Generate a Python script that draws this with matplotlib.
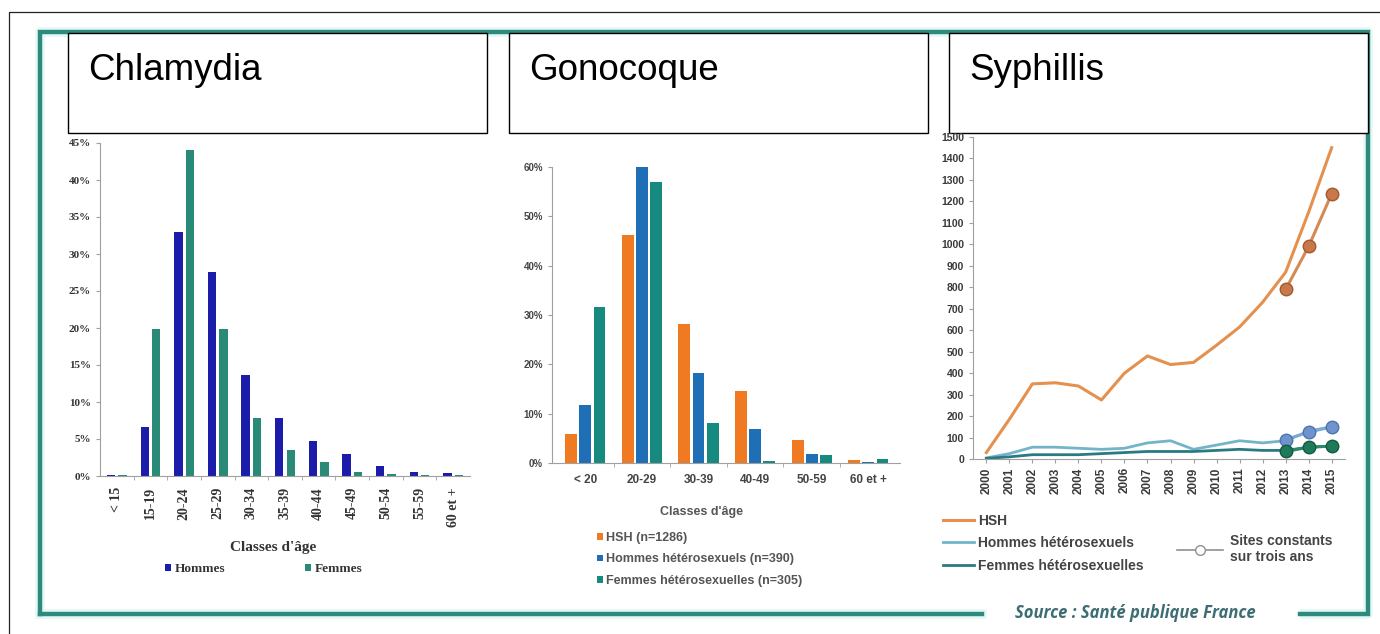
import matplotlib
import matplotlib.pyplot as plt
from matplotlib.patches import Rectangle
from matplotlib.lines import Line2D
from matplotlib.ticker import FixedLocator
import numpy as np

matplotlib.use('Agg')

W, H = 1380, 634

# Chlamydia : distribution par classe d'age (%)
chl_ages = ['< 15', '15-19', '20-24', '25-29', '30-34', '35-39',
            '40-44', '45-49', '50-54', '55-59', '60 et +']
chl_hommes = [0.1, 6.6, 33.0, 27.6, 13.6, 7.8, 4.7, 3.0, 1.4, 0.6, 0.4]
chl_femmes = [0.1, 19.8, 44.1, 19.8, 7.8, 3.5, 1.9, 0.5, 0.3, 0.1, 0.1]

# Gonocoque : distribution par classe d'age (%)
gono_ages = ['< 20', '20-29', '30-39', '40-49', '50-59', '60 et +']
gono_hsh = [5.9, 46.2, 28.2, 14.6, 4.6, 0.7]
gono_hommes = [11.8, 60.0, 18.3, 6.8, 1.8, 0.3]
gono_femmes = [31.7, 57.0, 8.1, 0.5, 1.7, 0.8]
gono_labels = ['HSH (n=1286)', 'Hommes hétérosexuels (n=390)',
               'Femmes hétérosexuelles (n=305)']

# Syphilis : nombre de cas par annee
years = list(range(2000, 2016))
syph_hsh = [30, 185, 350, 355, 340, 275, 400, 480, 440, 450,
            530, 615, 730, 870, 1150, 1450]
syph_hommes = [5, 25, 55, 55, 50, 45, 50, 75, 85, 45,
               65, 85, 75, 85, 130, 150]
syph_femmes = [3, 10, 20, 20, 20, 25, 30, 35, 35, 35,
               40, 45, 40, 40, 55, 60]
const_years = [2013, 2014, 2015]
const_hsh = [790, 990, 1235]
const_hommes = [90, 125, 150]
const_femmes = [35, 55, 60]

TEAL = '#2f8a7e'
SANS = 'Liberation Sans'
SERIF = 'Liberation Serif'


def px_axes(fig, x0, y0, x1, y1):
    ax = fig.add_axes([x0 / W, 1 - y1 / H, (x1 - x0) / W, (y1 - y0) / H])
    ax.set_facecolor('none')
    return ax


def style_axes(ax):
    for s in ['top', 'right']:
        ax.spines[s].set_visible(False)
    for s in ['left', 'bottom']:
        ax.spines[s].set_color('#a0a0a0')
        ax.spines[s].set_linewidth(0.8)
    ax.tick_params(colors='#a0a0a0', length=3, width=0.8)


fig = plt.figure(figsize=(W / 100, H / 100), dpi=100)

# decor : cadre, encadres de titre
bg = fig.add_axes([0, 0, 1, 1])
bg.set_xlim(0, W)
bg.set_ylim(H, 0)
bg.axis('off')
bg.add_patch(Rectangle((9, 12), W, H, fill=False, ec='#222222', lw=0.9))
frame_x = [40, 40, 1368, 1368, 1300]
frame_y = [614, 32, 32, 614, 614]
bg.plot(frame_x, frame_y, color='#e4f8f6', lw=7, solid_capstyle='butt',
        zorder=1)
bg.plot([982, 40], [614, 614], color='#e4f8f6', lw=7, zorder=1)
bg.plot(frame_x, frame_y, color=TEAL, lw=3.2, solid_joinstyle='miter',
        zorder=2)
bg.plot([982, 40], [614, 614], color=TEAL, lw=3.2, zorder=2)
for x0, title in [(68, 'Chlamydia'), (509, 'Gonocoque'), (949, 'Syphillis')]:
    bg.add_patch(Rectangle((x0, 33), 419, 100, fc='white', ec='black',
                           lw=1.0, zorder=3))
    bg.text(x0 + 20, 80, title, fontsize=26.5, family=SANS,
            va='baseline', ha='left', zorder=4)
fig.text(1135 / W, 1 - 613 / H, 'Source : Santé publique France',
         fontsize=12, family='Open Sans', style='italic', weight='bold',
         color='#3d6d73', ha='center', va='center')

# --- Chlamydia
ax1 = px_axes(fig, 100, 143, 470, 476)
style_axes(ax1)
x = np.arange(len(chl_ages))
ax1.bar(x - 0.17, chl_hommes, 0.25, color='#1c1caa', label='Hommes')
ax1.bar(x + 0.17, chl_femmes, 0.25, color='#2a8a78', label='Femmes')
ax1.set_xlim(-0.5, len(chl_ages) - 0.5)
ax1.set_ylim(0, 45)
ax1.set_yticks(range(0, 50, 5))
ax1.set_yticklabels(['%d%%' % v for v in range(0, 50, 5)],
                    family=SERIF, weight='bold', fontsize=8, color='#333333')
ax1.set_xticks(x)
ax1.set_xticklabels(chl_ages, rotation=90, family=SERIF, weight='bold',
                    fontsize=10, color='#333333')
ax1.xaxis.set_minor_locator(FixedLocator(x[:-1] + 0.5))
ax1.tick_params(axis='x', which='major', length=0, pad=8)
ax1.tick_params(axis='x', which='minor', length=3, color='#a0a0a0')
fig.text(273 / W, 1 - 547 / H, "Classes d'âge", family=SERIF, weight='bold',
         fontsize=11, color='#333333', ha='center', va='center')
ax1.legend(loc='upper left', bbox_to_anchor=(165 / W, 1 - 563 / H),
           bbox_transform=fig.transFigure, ncol=2, frameon=False,
           handlelength=0.45, handleheight=0.45, handletextpad=0.3,
           columnspacing=6.0, borderpad=0, borderaxespad=0,
           prop={'family': SERIF, 'weight': 'bold', 'size': 9.5})
for t in ax1.get_legend().get_texts():
    t.set_color('#333333')

# --- Gonocoque
ax2 = px_axes(fig, 552, 167, 900, 463)
style_axes(ax2)
x = np.arange(len(gono_ages))
ax2.bar(x - 0.25, gono_hsh, 0.21, color='#f07a22', label=gono_labels[0])
ax2.bar(x, gono_hommes, 0.21, color='#1f6fb6', label=gono_labels[1])
ax2.bar(x + 0.25, gono_femmes, 0.21, color='#178a80', label=gono_labels[2])
ax2.set_xlim(-0.59, len(gono_ages) - 0.44)
ax2.set_ylim(0, 60)
ax2.set_yticks(range(0, 70, 10))
ax2.set_yticklabels(['%d%%' % v for v in range(0, 70, 10)],
                    family=SANS, weight='bold', fontsize=7, color='#444444')
ax2.set_xticks(x)
ax2.set_xticklabels(gono_ages, family=SANS, weight='bold', fontsize=8.5,
                    color='#444444')
ax2.xaxis.set_minor_locator(FixedLocator(x[:-1] + 0.5))
ax2.tick_params(axis='x', which='major', length=0, pad=8)
ax2.tick_params(axis='x', which='minor', length=3, color='#a0a0a0')
fig.text(702 / W, 1 - 512 / H, "Classes d'âge", family=SANS, weight='bold',
         fontsize=9, color='#555555', ha='center', va='center')
ax2.legend(loc='upper left', bbox_to_anchor=(597 / W, 1 - 532 / H),
           bbox_transform=fig.transFigure, frameon=False,
           handlelength=0.45, handleheight=0.45, handletextpad=0.3,
           labelspacing=0.75, borderpad=0, borderaxespad=0,
           prop={'family': SANS, 'weight': 'bold', 'size': 9})
for t in ax2.get_legend().get_texts():
    t.set_color('#555555')

# --- Syphilis
ax3 = px_axes(fig, 973, 137, 1345, 459)
style_axes(ax3)
l_hsh, = ax3.plot(years, syph_hsh, color='#e4904e', lw=2.2, label='HSH')
l_hom, = ax3.plot(years, syph_hommes, color='#74b4c8', lw=2.0,
                  label='Hommes hétérosexuels')
l_fem, = ax3.plot(years, syph_femmes, color='#2a7a82', lw=2.0,
                  label='Femmes hétérosexuelles')
ax3.plot(const_years, const_hsh, color='#d58a55', lw=2.2, marker='o', ms=9,
         mfc='#c8784a', mec='#a05a30', mew=1)
ax3.plot(const_years, const_hommes, color='#7aa8d8', lw=2.2, marker='o', ms=9,
         mfc='#6f93cc', mec='#4f73b0', mew=1)
ax3.plot(const_years, const_femmes, color='#2a8a66', lw=2.2, marker='o', ms=9,
         mfc='#1f7a5a', mec='#145a40', mew=1)
ax3.set_xlim(1999.42, 2015.58)
ax3.set_ylim(0, 1500)
ax3.set_yticks(range(0, 1600, 100))
ax3.set_yticklabels([str(v) for v in range(0, 1600, 100)], family=SANS,
                    weight='bold', fontsize=7.5, color='#3a3a3a')
ax3.set_xticks(years)
ax3.set_xticklabels([str(y) for y in years], rotation=90, family=SANS,
                    weight='bold', fontsize=8.5, color='#3a3a3a')
ax3.tick_params(axis='x', pad=3)
leg = ax3.legend(handles=[l_hsh, l_hom, l_fem], loc='upper left',
                 bbox_to_anchor=(943 / W, 1 - 514 / H),
                 bbox_transform=fig.transFigure, frameon=False,
                 handlelength=2.2, handletextpad=0.3, labelspacing=0.6,
                 borderpad=0, borderaxespad=0,
                 prop={'family': SANS, 'weight': 'bold', 'size': 10})
for t in leg.get_texts():
    t.set_color('#444444')
ax3.add_artist(leg)
site = Line2D([], [], color='#909090', lw=1.2, marker='o', ms=7,
              mfc='white', mec='#909090', label='Sites constants\nsur trois ans')
leg2 = ax3.legend(handles=[site], loc='upper left',
                  bbox_to_anchor=(1177 / W, 1 - 534 / H),
                  bbox_transform=fig.transFigure, frameon=False,
                  handlelength=3.3, handletextpad=0.5, borderpad=0,
                  borderaxespad=0,
                  prop={'family': SANS, 'weight': 'bold', 'size': 10})
for t in leg2.get_texts():
    t.set_color('#444444')

fig.savefig('out.png', dpi=100)
